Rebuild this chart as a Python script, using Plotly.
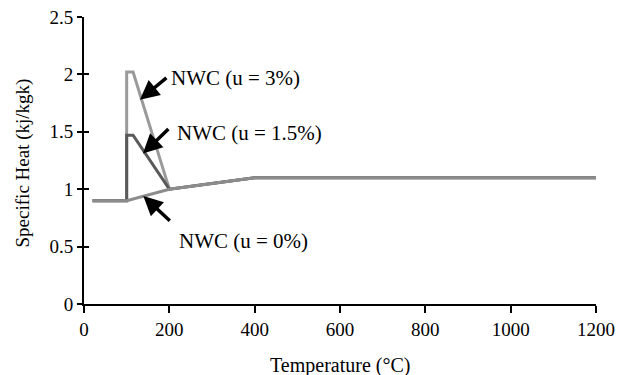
import plotly.graph_objects as go

# Data (temperature in °C, specific heat in kJ/kgK)
temp_u3 = [20, 100, 100, 115, 200, 400, 1200]
cp_u3 = [0.9, 0.9, 2.02, 2.02, 1.0, 1.1, 1.1]
temp_u15 = [20, 100, 100, 115, 200, 400, 1200]
cp_u15 = [0.9, 0.9, 1.47, 1.47, 1.0, 1.1, 1.1]
temp_u0 = [20, 100, 200, 400, 1200]
cp_u0 = [0.9, 0.9, 1.0, 1.1, 1.1]

x_ticks = [0, 200, 400, 600, 800, 1000, 1200]
y_ticks = [0, 0.5, 1, 1.5, 2, 2.5]
y_ticktext = ["0", "0.5", "1", "1.5", "2", "2.5"]

labels = ["NWC (u = 3%)", "NWC (u = 1.5%)", "NWC (u = 0%)"]
label_pos = [(200, 1.97), (214, 1.49), (219, 0.545)]
arrow_heads = [(131, 1.78), (138, 1.31), (139, 0.94)]
arrow_tails = [(28, -23), (27, -26), (28, 26)]

FONT = "Liberation Serif, Times New Roman, serif"

fig = go.Figure()
fig.add_trace(go.Scatter(x=temp_u3, y=cp_u3, mode="lines",
                         line=dict(color="#9a9a9a", width=3), showlegend=False))
fig.add_trace(go.Scatter(x=temp_u15, y=cp_u15, mode="lines",
                         line=dict(color="#5a5a5a", width=3), showlegend=False))
fig.add_trace(go.Scatter(x=temp_u0, y=cp_u0, mode="lines",
                         line=dict(color="#8c8c8c", width=3), showlegend=False))

for text, (tx, ty) in zip(labels, label_pos):
    fig.add_annotation(x=tx, y=ty, text=text, showarrow=False,
                       xanchor="left", yanchor="middle",
                       font=dict(family=FONT, size=21, color="black"))

for (hx, hy), (ax, ay) in zip(arrow_heads, arrow_tails):
    fig.add_annotation(x=hx, y=hy, ax=ax, ay=ay, axref="pixel", ayref="pixel",
                       text="", showarrow=True, arrowhead=2, arrowsize=1.1,
                       arrowwidth=3.5, arrowcolor="black")

# axis titles
fig.add_annotation(x=0.5, y=-0.215, xref="paper", yref="paper",
                   text="Temperature (°C)", showarrow=False,
                   xanchor="center", yanchor="middle",
                   font=dict(family=FONT, size=20, color="black"))
fig.add_annotation(x=-0.119, y=0.49, xref="paper", yref="paper",
                   text="Specific Heat (kj/kgk)", showarrow=False, textangle=-90,
                   xanchor="center", yanchor="middle",
                   font=dict(family=FONT, size=19, color="black"))

fig.update_layout(
    width=619, height=375,
    margin=dict(l=84, r=23, t=17, b=71),
    paper_bgcolor="white", plot_bgcolor="white",
    font=dict(family=FONT, size=19, color="black"),
    xaxis=dict(range=[0, 1200], tickvals=x_ticks, ticks="outside", ticklen=7,
               tickwidth=2, tickcolor="black", showline=True, linecolor="black",
               linewidth=2, showgrid=False, zeroline=False, automargin=False,
               tickfont=dict(size=19)),
    yaxis=dict(range=[0, 2.5], tickvals=y_ticks, ticktext=y_ticktext,
               ticks="outside", ticklen=5, tickwidth=2, tickcolor="black",
               showline=True, linecolor="black", linewidth=2, showgrid=False,
               zeroline=False, automargin=False,
               tickfont=dict(size=19)),
    yaxis2=dict(range=[0, 2.5], tickvals=y_ticks, overlaying="y", side="left",
                ticks="inside", ticklen=5, tickwidth=2, tickcolor="black",
                showticklabels=False, showgrid=False, zeroline=False, showline=False,
                automargin=False),
)
fig.add_trace(go.Scatter(x=[None], y=[None], yaxis="y2", showlegend=False))

fig.write_html("out.html", config={"displayModeBar": False},
               post_script="document.body.style.margin='0';document.body.style.padding='0';")
